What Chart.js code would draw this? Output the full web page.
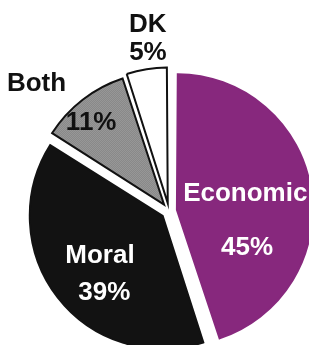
<!DOCTYPE html>
<html lang="en">
<head>
  <meta charset="UTF-8" />
  <title>Economic vs Moral</title>
  <script src="https://cdn.jsdelivr.net/npm/chart.js"></script>
  <style>
    html,body { margin:0; padding:0; overflow:hidden; background:#fff; width:309px; height:345px; }
    canvas    { display:block; }
  </style>
</head>
<body>
<canvas id="pie" width="309" height="345"></canvas>

<script>
  /* ---------- data ---------- */
  const categories = ['Economic', 'Moral', 'Both', 'DK'];
  const shares     = [45, 39, 11, 5];

  /* ---------- label layout: [dist (x radius), angle deg clockwise from top] ---------- */
  const nameSpots  = [[0.58, 77], [0.61, 237], [1.36, 313.8], [1.39, 353.5]];
  const pctSpots   = [[0.64, 115.5], [0.77, 218.5], [0.87, 318.5], [1.18, 352.4]];
  const nameColors = ['#fff', '#fff', '#111', '#111'];
  const pctColors  = ['#fff', '#fff', '#111', '#111'];

  // dotted grey for "Both"
  function dotPattern() {
    const c = document.createElement('canvas');
    c.width = 2; c.height = 2;
    const g = c.getContext('2d');
    g.fillStyle = '#aaaaaa'; g.fillRect(0,0,2,2);
    g.fillStyle = '#777777'; g.fillRect(0,0,1,1); g.fillRect(1,1,1,1);
    return g.createPattern(c, 'repeat');
  }

  const sliceLabels = {
    id: 'sliceLabels',
    afterDatasetsDraw(chart) {
      const ctx = chart.ctx;
      const arcs = chart.getDatasetMeta(0).data;
      ctx.save();
      ctx.font = 'bold 26px "Liberation Sans", Arial, sans-serif';
      ctx.textAlign = 'center';
      ctx.textBaseline = 'middle';
      arcs.forEach((arc, i) => {
        const R = 135;
        const put = (txt, spot, col) => {
          const a = spot[1] * Math.PI / 180;
          ctx.fillStyle = col;
          ctx.fillText(txt, arc.x + Math.sin(a) * spot[0] * R, arc.y - Math.cos(a) * spot[0] * R);
        };
        put(categories[i], nameSpots[i], nameColors[i]);
        put(shares[i] + '%', pctSpots[i], pctColors[i]);
      });
      ctx.restore();
    }
  };

  new Chart(document.getElementById('pie').getContext('2d'), {
    type: 'pie',
    data: {
      labels: categories,
      datasets: [{
        data: shares,
        backgroundColor: ['#87287d', '#121212', dotPattern(), '#ffffff'],
        borderColor: ['#87287d', '#121212', '#111', '#111'],
        borderWidth: 2,
        borderJoinStyle: 'miter',
        offset: 32,          // v4 shifts each slice by offset/4 = 8px
        clip: false
      }]
    },
    options: {
      responsive: false,
      animation: false,
      events: [],
      radius: 130,
      layout: { padding: { left: 29, right: 0, top: 77, bottom: 0 } },
      plugins: { legend: { display: false }, tooltip: { enabled: false } }
    },
    plugins: [sliceLabels]
  });
</script>
</body>
</html>
